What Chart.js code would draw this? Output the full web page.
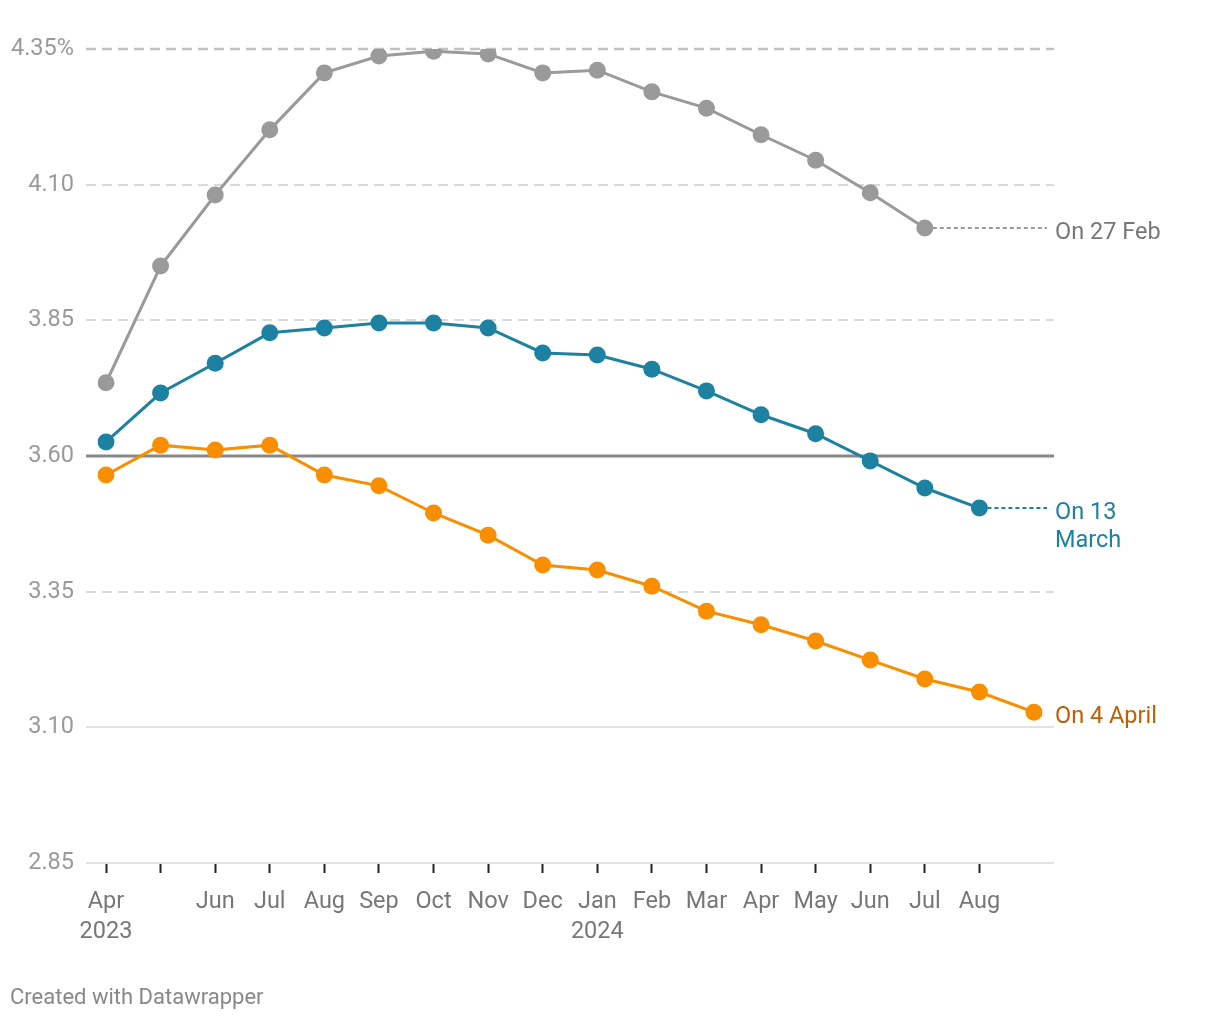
<!DOCTYPE html>
<html>
<head>
<meta charset="utf-8">
<script src="https://cdn.jsdelivr.net/npm/chart.js@4.4.1/dist/chart.umd.min.js"></script>
<style>
  html, body { margin: 0; padding: 0; background: #fff; }
  #wrap { position: relative; width: 1220px; height: 1020px; }
  #credit { position: absolute; left: 10px; top: 984px; font: 22px Roboto, sans-serif; color: #888; }
</style>
</head>
<body>
<div id="wrap">
  <canvas id="chart" width="1220" height="1020"></canvas>
  <div id="credit">Created with Datawrapper</div>
</div>
<script>
// x categories (Apr 2023 .. Sep 2024)
const months = [['Apr', '2023'], '', 'Jun', 'Jul', 'Aug', 'Sep', 'Oct', 'Nov', 'Dec',
    ['Jan', '2024'], 'Feb', 'Mar', 'Apr', 'May', 'Jun', 'Jul', 'Aug', ''];

// y ticks
const yTicks = [2.85, 3.10, 3.35, 3.60, 3.85, 4.10, 4.35];

// series
const feb27 = [3.735, 3.950, 4.081, 4.201, 4.306, 4.337, 4.346, 4.341, 4.306, 4.311,
    4.271, 4.241, 4.192, 4.145, 4.085, 4.020, null, null];
const mar13 = [3.626, 3.716, 3.771, 3.827, 3.836, 3.845, 3.845, 3.836, 3.790, 3.786,
    3.760, 3.720, 3.676, 3.641, 3.591, 3.541, 3.504, null];
const apr4 = [3.565, 3.620, 3.611, 3.620, 3.565, 3.545, 3.495, 3.454, 3.399, 3.390,
    3.360, 3.314, 3.289, 3.259, 3.224, 3.189, 3.165, 3.128];

const GRAY = '#9a9a9a';
const BLUE = '#1d81a2';
const ORANGE = '#f98e00';
const FONT_SIZE = 23.5;

// stil der horizontalen linien
function gridStyle(v) {
    if (Math.abs(v - 3.60) < 1e-6) return { color: '#888', width: 3, dash: [] };
    if (v < 3.2) return { color: '#e2e2e2', width: 2, dash: [] };
    if (Math.abs(v - 4.35) < 1e-6) return { color: '#c2c2c2', width: 2.5, dash: [10, 6] };
    return { color: '#dadada', width: 2, dash: [10, 6] };
}

const gridPlugin = {
    id: 'customGrid',
    beforeDatasetsDraw(chart) {
        const { ctx, chartArea, scales } = chart;
        ctx.save();
        yTicks.forEach(v => {
            const y = Math.round(scales.y.getPixelForValue(v));
            const s = gridStyle(v);
            ctx.beginPath();
            ctx.strokeStyle = s.color;
            ctx.lineWidth = s.width;
            ctx.setLineDash(s.dash);
            ctx.moveTo(chartArea.left - 20, y);
            ctx.lineTo(chartArea.right + 20, y);
            ctx.stroke();
        });
        ctx.restore();
    }
};

const endLabelPlugin = {
    id: 'endLabels',
    afterDatasetsDraw(chart) {
        const { ctx, chartArea } = chart;
        const labelX = chartArea.right + 21;
        ctx.save();
        chart.data.datasets.forEach((ds, i) => {
            const meta = chart.getDatasetMeta(i);
            let last = -1;
            ds.data.forEach((v, j) => { if (v !== null) last = j; });
            const pt = meta.data[last];
            if (pt.x + 14 < labelX - 8) {
                ctx.beginPath();
                ctx.strokeStyle = ds.borderColor;
                ctx.lineWidth = 2;
                ctx.setLineDash([4, 3]);
                ctx.moveTo(pt.x + 8, pt.y);
                ctx.lineTo(labelX - 8, pt.y);
                ctx.stroke();
            }
            ctx.setLineDash([]);
            ctx.fillStyle = ds.labelColor;
            ctx.font = FONT_SIZE + 'px Roboto';
            ctx.textAlign = 'left';
            ctx.textBaseline = 'middle';
            ds.endLabel.forEach((line, k) => {
                ctx.fillText(line, labelX, pt.y + 5 + k * 28);
            });
        });
        ctx.restore();
    }
};

function draw() {
    Chart.defaults.font.family = 'Roboto';
    new Chart(document.getElementById('chart'), {
        type: 'line',
        data: {
            labels: months,
            datasets: [
                { data: feb27, borderColor: GRAY, backgroundColor: GRAY, labelColor: '#777', endLabel: ['On 27 Feb'] },
                { data: mar13, borderColor: BLUE, backgroundColor: BLUE, labelColor: BLUE, endLabel: ['On 13', 'March'] },
                { data: apr4, borderColor: ORANGE, backgroundColor: ORANGE, labelColor: '#c45c00', endLabel: ['On 4 April'] }
            ].map(d => Object.assign({
                borderWidth: 3,
                pointRadius: 8.5,
                pointBorderWidth: 0,
                pointHoverRadius: 8.5,
                tension: 0,
                spanGaps: false
            }, d))
        },
        options: {
            responsive: false,
            animation: false,
            events: [],
            layout: { padding: { left: 0, right: 186, top: 49, bottom: 67 } },
            plugins: { legend: { display: false }, tooltip: { enabled: false } },
            scales: {
                x: {
                    offset: false,
                    border: { display: false },
                    grid: {
                        drawOnChartArea: false,
                        drawTicks: true,
                        tickLength: 10,
                        tickWidth: 2,
                        tickColor: c => (c.index === months.length - 1 ? 'rgba(0,0,0,0)' : '#222')
                    },
                    ticks: {
                        autoSkip: false,
                        maxRotation: 0,
                        padding: 14,
                        color: '#777',
                        font: { size: FONT_SIZE, lineHeight: 1.28 }
                    },
                    afterFit: s => { s.height = 90; }
                },
                y: {
                    min: 2.85,
                    max: 4.35,
                    border: { display: false },
                    grid: { display: false, drawTicks: false },
                    afterBuildTicks: s => { s.ticks = yTicks.map(v => ({ value: v })); },
                    afterFit: s => { s.width = 106; },
                    ticks: {
                        padding: 32,
                        color: '#9a9a9a',
                        font: { size: FONT_SIZE },
                        callback: v => (Math.abs(v - 4.35) < 1e-6 ? '4.35%' : v.toFixed(2))
                    }
                }
            }
        },
        plugins: [gridPlugin, endLabelPlugin]
    });
}

if (document.fonts && document.fonts.load) {
    document.fonts.load('21px Roboto').then(draw, draw);
} else {
    draw();
}
</script>
</body>
</html>
